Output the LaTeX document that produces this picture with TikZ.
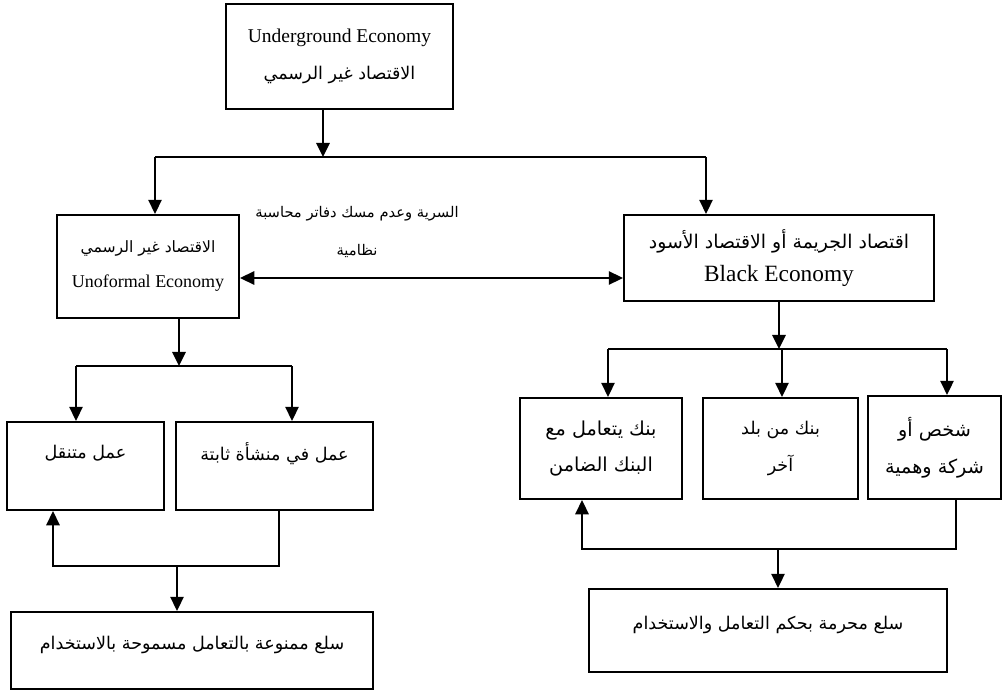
\documentclass[tikz,border=0pt]{standalone}
\usepackage{fontspec}
\setmainfont{Liberation Serif}
\newfontfamily\arabicfont[Script=Arabic,Scale=0.9]{DejaVu Sans}
\TeXXeTstate=1
\newcommand{\artext}[1]{{\arabicfont\beginR #1\endR}}
\usetikzlibrary{arrows.meta}

\begin{document}
\begin{tikzpicture}[x=0.6pt, y=-0.6pt, line width=1.3pt, font=\fontsize{11.7}{22}\selectfont,
	box/.style 2 args = {draw, align=center, inner sep=0pt, minimum width=#1*0.6pt, minimum height=#2*0.6pt},
	lifted/.style = {text depth=#1},
	>={Triangle[length=8.5pt, width=8pt]}]
\useasboundingbox (0,0) rectangle (1003,693);
\node[box={227}{105}]                   (under)   at (339.5,56.5) {Underground Economy\\\artext{الاقتصاد غير الرسمي}};
\node[box={182}{103}, font=\fontsize{10.4}{21}\selectfont]
                                        (informal) at (148,266.5) {\artext{الاقتصاد غير الرسمي}\\{\fontsize{10.8}{21}\selectfont Unoformal Economy}};
\node[box={310}{86}, font=\fontsize{12.6}{20}\selectfont]
                                        (black)   at (779,258)    {\artext{اقتصاد الجريمة أو الاقتصاد الأسود}\\{\fontsize{14}{20}\selectfont Black Economy}};
\node[align=center, font=\fontsize{9.8}{23}\selectfont]
                                        (secret)  at (357,232)    {\artext{السرية وعدم مسك دفاتر محاسبة}\\\artext{نظامية}};
\node[box={157}{88}, lifted=17pt]       (mobile)  at (85.5,466)   {\artext{عمل متنقل}};
\node[box={197}{88}, lifted=17pt]       (fixed)   at (274.5,466)  {\artext{عمل في منشأة ثابتة}};
\node[box={362}{77}, lifted=9.5pt]      (goodsE)  at (192,650.5)  {\artext{سلع ممنوعة بالتعامل مسموحة بالاستخدام}};
\node[box={162}{101}, font=\fontsize{12.8}{22}\selectfont]
                                        (bankA)   at (601,448.5)  {\artext{بنك يتعامل مع}\\\artext{البنك الضامن}};
\node[box={155}{101}]                   (bankB)   at (780.5,448.5) {\artext{بنك من بلد}\\\artext{آخر}};
\node[box={133}{103}, font=\fontsize{12.8}{22}\selectfont]
                                        (shell)   at (934.5,447.5) {\artext{شخص أو}\\\artext{شركة وهمية}};
\node[box={358}{83}, lifted=9.5pt]      (goodsD)  at (768,630.5)  {\artext{سلع محرمة بحكم التعامل والاستخدام}};
\coordinate (j1) at (323,157);
\coordinate (l1) at (155,157);
\coordinate (r1) at (706,157);
\coordinate (mid) at (430,278);
\coordinate (j2) at (179,366);
\coordinate (l2) at (76,366);
\coordinate (r2) at (292,366);
\coordinate (j3) at (177,566);
\coordinate (l3) at (53,566);
\coordinate (r3) at (279,566);
\coordinate (j4) at (782,349);
\coordinate (l4) at (608,349);
\coordinate (r4) at (947,349);
\coordinate (j5) at (778,549);
\coordinate (l5) at (582,549);
\coordinate (r5) at (956,549);

\draw[->] (j1 |- under.south) -- (j1);
\draw (l1) -- (r1);
\draw[->] (l1) -- (l1 |- informal.north);
\draw[->] (r1) -- (r1 |- black.north);
\draw[<->] (mid -| informal.east) -- (mid -| black.west);
\draw[->] (j2 |- informal.south) -- (j2);
\draw (l2) -- (r2);
\draw[->] (l2) -- (l2 |- mobile.north);
\draw[->] (r2) -- (r2 |- fixed.north);
\draw[->] (r3 |- fixed.south) -- (r3) -- (l3) -- (l3 |- mobile.south);
\draw[->] (j3) -- (j3 |- goodsE.north);
\draw[->] (black.south) -- (black.south |- j4);
\draw (l4) -- (r4);
\draw[->] (l4) -- (l4 |- bankA.north);
\draw[->] (j4) -- (j4 |- bankB.north);
\draw[->] (r4) -- (r4 |- shell.north);
\draw[->] (r5 |- shell.south) -- (r5) -- (l5) -- (l5 |- bankA.south);
\draw[->] (j5) -- (j5 |- goodsD.north);
\end{tikzpicture}
\end{document}
